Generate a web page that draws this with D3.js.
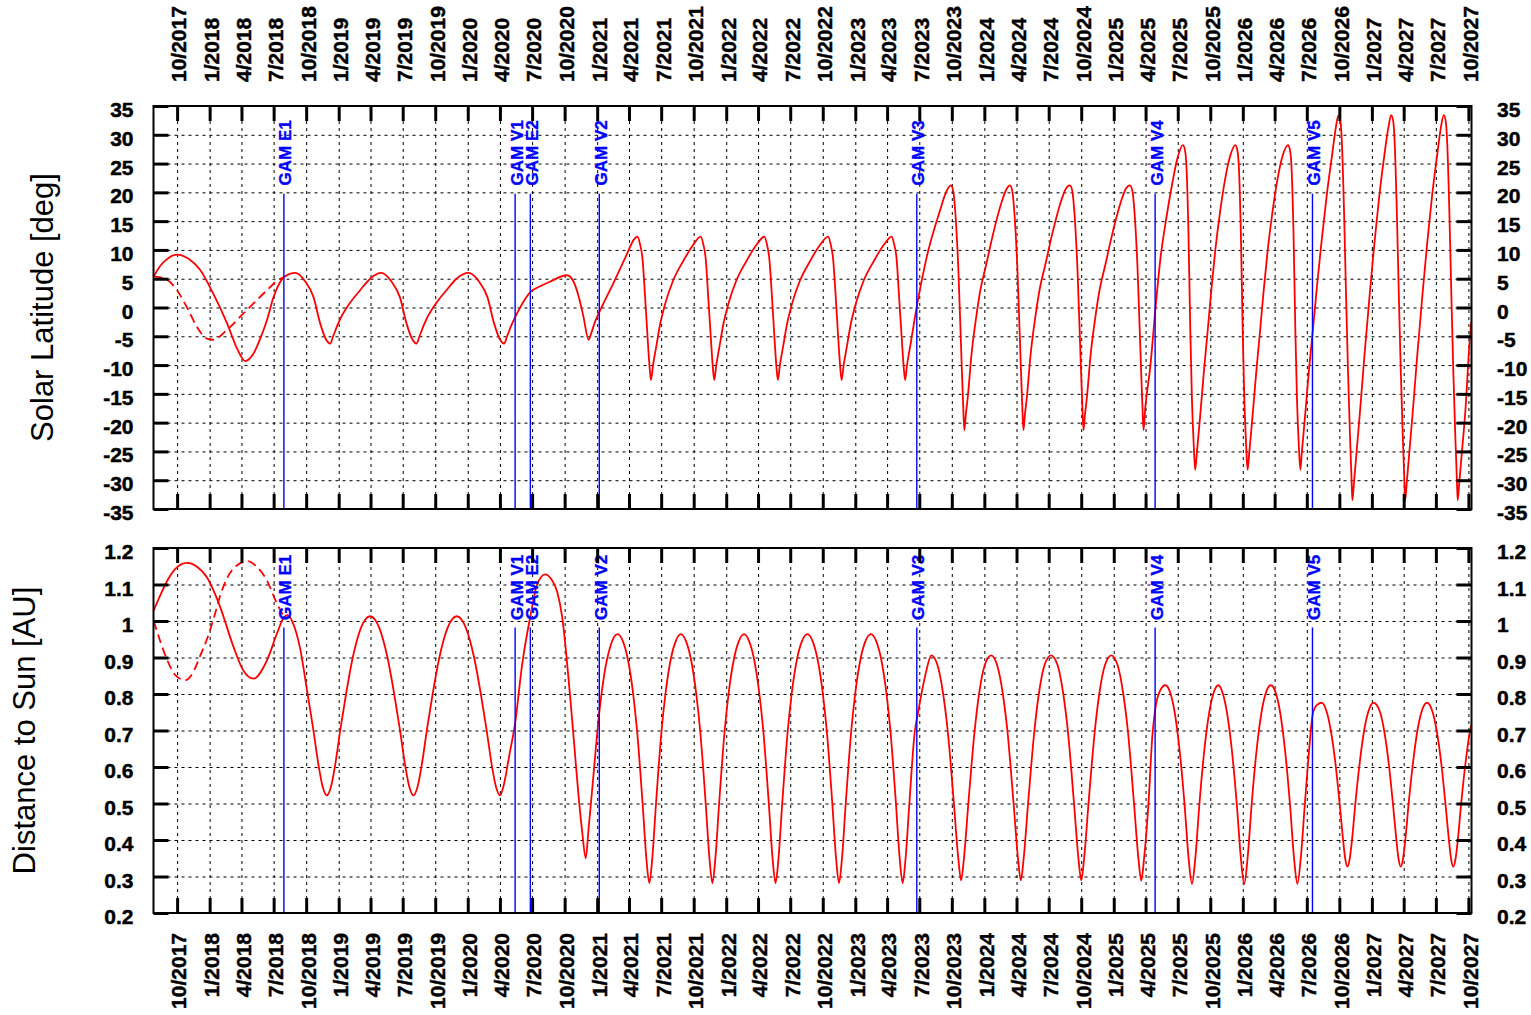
<!DOCTYPE html>
<html>
<head>
<meta charset="utf-8">
<script src="https://cdn.jsdelivr.net/npm/d3@7"></script>
<style>
  body { margin: 0; background: #fff; }
  svg { display: block; }
</style>
</head>
<body>
<svg id="chart" width="1531" height="1015"></svg>
<script>
// ---------------------------------------------------------------------------
// Trajectory data. Time is given in decimal years.
// ---------------------------------------------------------------------------

// Solar latitude [deg], baseline trajectory (solid)
const latSolid = [
  [2017.567,5.4],[2017.617,7.2],[2017.669,8.4],[2017.749,9.2],[2017.834,8.5],[2017.927,6.5],[2018.028,2.4],
  [2018.136,-2.8],[2018.214,-7.2],[2018.276,-9.3],[2018.340,-8.0],[2018.392,-5.4],[2018.444,-2.2],[2018.495,1.8],
  [2018.578,5.3],[2018.663,6.0],
  [2018.741,4.5],[2018.805,1.8],[2018.857,-2.8],[2018.903,-5.6],[2018.934,-6.25],[2018.957,-5.0],[2018.988,-3.2],
  [2019.011,-2.0],[2019.063,0],[2019.166,3.0],[2019.244,5.0],[2019.327,6.0],
  [2019.409,4.5],[2019.474,1.8],[2019.526,-2.8],[2019.572,-5.6],[2019.603,-6.25],[2019.626,-5.0],[2019.657,-3.2],
  [2019.680,-2.0],[2019.732,0],[2019.835,3.0],[2019.913,5.0],[2020.005,6.0],
  [2020.087,4.5],[2020.152,1.8],[2020.204,-2.8],[2020.250,-5.6],[2020.281,-6.25],[2020.304,-5.0],[2020.335,-3.2],
  [2020.368,-1.6],[2020.420,0.6],[2020.485,2.7],[2020.560,3.7],[2020.637,4.5],[2020.766,5.6],[2020.815,4.6],
  [2020.856,2.0],[2020.893,-1.5],[2020.934,-5.6],[2020.955,-4.4],[2020.985,-2.4],[2021.017,-0.8],[2021.125,4.2],
  [2021.233,9.4],[2021.284,11.8],[2021.313,12.3],
  [2021.332,11.0],[2021.351,8.5],[2021.371,2.0],[2021.390,-5.0],[2021.405,-10.0],[2021.417,-12.6],[2021.433,-10.0],
  [2021.460,-6.5],[2021.487,-3.0],[2021.525,0.5],[2021.587,4.6],[2021.665,8.0],[2021.742,10.8],[2021.803,12.3],
  [2021.822,11.0],[2021.841,8.5],[2021.860,2.0],[2021.880,-5.0],[2021.895,-10.0],[2021.907,-12.6],[2021.923,-10.0],
  [2021.950,-6.5],[2021.977,-3.0],[2022.015,0.5],[2022.077,4.6],[2022.155,8.0],[2022.232,10.8],[2022.296,12.3],
  [2022.315,11.0],[2022.334,8.5],[2022.354,2.0],[2022.373,-5.0],[2022.388,-10.0],[2022.400,-12.6],[2022.416,-10.0],
  [2022.443,-6.5],[2022.470,-3.0],[2022.508,0.5],[2022.570,4.6],[2022.648,8.0],[2022.725,10.8],[2022.790,12.3],
  [2022.809,11.0],[2022.828,8.5],[2022.848,2.0],[2022.867,-5.0],[2022.882,-10.0],[2022.894,-12.6],[2022.910,-10.0],
  [2022.937,-6.5],[2022.964,-3.0],[2023.002,0.5],[2023.064,4.6],[2023.142,8.0],[2023.219,10.8],[2023.282,12.3],
  [2023.301,11.0],[2023.320,8.5],[2023.339,2.0],[2023.359,-5.0],[2023.374,-10.0],[2023.386,-12.6],[2023.401,-10.0],
  [2023.425,-6.8],[2023.476,0.1],[2023.554,8.8],[2023.657,16.9],[2023.703,20.0],[2023.740,21.2],
  [2023.759,20.2],[2023.775,16.5],[2023.798,7.0],[2023.825,-10.3],[2023.836,-17.0],[2023.845,-21.3],[2023.857,-18.5],
  [2023.872,-15.5],[2023.899,-8.5],[2023.938,-1.5],[2023.969,3.0],[2024.015,7.5],[2024.070,13.0],[2024.132,18.2],
  [2024.170,20.5],[2024.199,21.2],
  [2024.216,20.2],[2024.232,16.5],[2024.255,7.0],[2024.282,-10.3],[2024.293,-17.0],[2024.302,-21.3],[2024.314,-18.5],
  [2024.329,-15.5],[2024.356,-8.5],[2024.395,-1.5],[2024.426,3.0],[2024.472,7.5],[2024.527,13.0],[2024.589,18.2],
  [2024.627,20.5],[2024.661,21.2],
  [2024.680,20.2],[2024.696,16.5],[2024.719,7.0],[2024.746,-10.3],[2024.757,-17.0],[2024.766,-21.3],[2024.778,-18.5],
  [2024.793,-15.5],[2024.820,-8.5],[2024.859,-1.5],[2024.890,3.0],[2024.936,7.5],[2024.991,13.0],[2025.053,18.2],
  [2025.091,20.5],[2025.125,21.2],
  [2025.145,20.2],[2025.161,16.5],[2025.184,7.0],[2025.211,-10.3],[2025.222,-17.0],[2025.231,-21.3],[2025.244,-17.5],
  [2025.283,-10.3],[2025.322,-0.5],[2025.360,8.2],[2025.407,15.5],[2025.453,21.5],[2025.492,25.8],[2025.536,28.2],
  [2025.552,27.3],[2025.562,25.0],[2025.579,12.8],[2025.593,-3.9],[2025.606,-16.1],[2025.620,-24.0],[2025.631,-28.2],
  [2025.643,-25.5],[2025.670,-18.7],[2025.701,-10.5],[2025.728,-4.0],[2025.755,2.8],[2025.786,9.8],[2025.825,16.8],
  [2025.863,22.3],[2025.902,26.3],[2025.942,28.2],
  [2025.958,27.3],[2025.968,25.0],[2025.985,12.8],[2025.999,-3.9],[2026.012,-16.1],[2026.026,-24.0],[2026.037,-28.2],
  [2026.049,-25.5],[2026.076,-18.7],[2026.107,-10.5],[2026.134,-4.0],[2026.161,2.8],[2026.192,9.8],[2026.231,16.8],
  [2026.269,22.3],[2026.308,26.3],[2026.350,28.2],
  [2026.366,27.3],[2026.376,25.0],[2026.393,12.8],[2026.407,-3.9],[2026.420,-16.1],[2026.434,-24.0],[2026.446,-28.2],
  [2026.456,-25.5],[2026.483,-18.7],[2026.514,-10.5],[2026.543,-3.9],[2026.576,4.0],[2026.615,12.5],[2026.653,20.0],
  [2026.692,26.5],[2026.719,31.0],[2026.741,33.4],
  [2026.757,32.3],[2026.768,28.5],[2026.784,17.0],[2026.799,3.0],[2026.815,-11.0],[2026.830,-22.0],[2026.842,-29.5],
  [2026.849,-33.5],[2026.861,-30.5],[2026.880,-25.5],[2026.909,-17.8],[2026.942,-8.5],[2026.986,3.0],[2027.019,11.0],
  [2027.058,19.5],[2027.097,26.5],[2027.128,31.3],[2027.150,33.4],
  [2027.166,32.3],[2027.177,28.5],[2027.193,17.0],[2027.208,3.0],[2027.224,-11.0],[2027.239,-22.0],[2027.251,-29.5],
  [2027.258,-33.5],[2027.270,-30.5],[2027.289,-25.5],[2027.318,-17.8],[2027.351,-8.5],[2027.395,3.0],[2027.428,11.0],
  [2027.467,19.5],[2027.506,26.5],[2027.535,31.3],[2027.557,33.4],
  [2027.573,32.3],[2027.584,28.5],[2027.600,17.0],[2027.615,3.0],[2027.631,-11.0],[2027.646,-22.0],[2027.658,-29.5],
  [2027.665,-33.5],[2027.677,-30.5],[2027.696,-25.5],[2027.725,-17.8],[2027.757,-6.0],[2027.770,-2.5]
];

// Solar latitude [deg], alternative early arc up to the Earth flyby (dashed)
const latDashed = [
  [2017.567,5.4],[2017.656,5.0],[2017.747,3.0],[2017.836,-0.5],[2017.902,-3.4],[2017.979,-5.4],[2018.030,-5.6],
  [2018.134,-3.9],[2018.237,-1.6],[2018.340,0.7],[2018.444,3.0],[2018.547,5.0],[2018.578,5.3]
];

// Distance to Sun [AU], baseline trajectory (solid)
const distSolid = [
  [2017.567,1.029],[2017.617,1.07],[2017.679,1.115],[2017.734,1.143],[2017.824,1.159],[2017.904,1.148],[2017.979,1.12],
  [2018.028,1.085],[2018.082,1.038],[2018.185,0.929],[2018.260,0.865],[2018.340,0.842],[2018.444,0.892],[2018.521,0.965],
  [2018.572,1.008],[2018.601,1.016],[2018.645,0.995],[2018.701,0.925],[2018.759,0.80],[2018.800,0.71],[2018.846,0.60],
  [2018.873,0.55],[2018.908,0.5225],
  [2018.943,0.55],[2018.970,0.60],[2019.016,0.71],[2019.057,0.80],[2019.109,0.90],[2019.171,0.98],[2019.243,1.013],
  [2019.316,0.98],[2019.378,0.90],[2019.430,0.80],[2019.471,0.71],[2019.517,0.60],[2019.544,0.55],[2019.579,0.5225],
  [2019.614,0.55],[2019.641,0.60],[2019.687,0.71],[2019.728,0.80],[2019.780,0.90],[2019.842,0.98],[2019.915,1.013],
  [2019.987,0.98],[2020.049,0.90],[2020.101,0.80],[2020.142,0.71],[2020.188,0.60],[2020.215,0.55],[2020.250,0.5225],
  [2020.281,0.555],[2020.320,0.63],[2020.366,0.72],[2020.420,0.88],[2020.482,1.01],[2020.536,1.10],[2020.598,1.128],
  [2020.645,1.115],[2020.691,1.08],[2020.730,1.01],[2020.761,0.91],[2020.792,0.79],[2020.823,0.66],[2020.854,0.53],
  [2020.885,0.42],[2020.912,0.35],
  [2020.931,0.42],[2020.972,0.58],[2021.010,0.728],[2021.056,0.856],[2021.102,0.93],[2021.157,0.964],
  [2021.199,0.945],[2021.235,0.9],[2021.279,0.8],[2021.309,0.7],[2021.352,0.5],[2021.381,0.35],[2021.404,0.282],
  [2021.427,0.35],[2021.456,0.5],[2021.499,0.7],[2021.529,0.8],[2021.573,0.9],[2021.609,0.945],[2021.648,0.964],
  [2021.688,0.945],[2021.724,0.9],[2021.768,0.8],[2021.798,0.7],[2021.841,0.5],[2021.870,0.35],[2021.893,0.282],
  [2021.916,0.35],[2021.945,0.5],[2021.988,0.7],[2022.018,0.8],[2022.062,0.9],[2022.098,0.945],[2022.138,0.964],
  [2022.177,0.945],[2022.213,0.9],[2022.257,0.8],[2022.287,0.7],[2022.330,0.5],[2022.359,0.35],[2022.382,0.282],
  [2022.405,0.35],[2022.434,0.5],[2022.477,0.7],[2022.507,0.8],[2022.551,0.9],[2022.587,0.945],[2022.629,0.964],
  [2022.669,0.945],[2022.705,0.9],[2022.749,0.8],[2022.779,0.7],[2022.822,0.5],[2022.851,0.35],[2022.874,0.282],
  [2022.897,0.35],[2022.926,0.5],[2022.969,0.7],[2022.999,0.8],[2023.043,0.9],[2023.079,0.945],[2023.121,0.964],
  [2023.162,0.945],[2023.198,0.9],[2023.242,0.8],[2023.272,0.7],[2023.315,0.5],[2023.344,0.35],[2023.367,0.282],
  [2023.390,0.35],[2023.419,0.5],[2023.462,0.7],[2023.479,0.735],[2023.518,0.81],[2023.548,0.86],[2023.590,0.906],
  [2023.636,0.88],[2023.681,0.8],[2023.716,0.7],[2023.764,0.5],[2023.798,0.35],[2023.820,0.29],
  [2023.842,0.35],[2023.876,0.5],[2023.925,0.7],[2023.959,0.8],[2024.004,0.88],[2024.053,0.906],
  [2024.098,0.88],[2024.143,0.8],[2024.178,0.7],[2024.226,0.5],[2024.260,0.35],[2024.282,0.29],
  [2024.304,0.35],[2024.338,0.5],[2024.387,0.7],[2024.421,0.8],[2024.466,0.88],[2024.515,0.906],
  [2024.565,0.88],[2024.610,0.8],[2024.645,0.7],[2024.693,0.5],[2024.727,0.35],[2024.749,0.29],
  [2024.771,0.35],[2024.805,0.5],[2024.854,0.7],[2024.888,0.8],[2024.933,0.88],[2024.981,0.906],
  [2025.029,0.88],[2025.074,0.8],[2025.109,0.7],[2025.157,0.5],[2025.191,0.35],[2025.213,0.289],
  [2025.235,0.35],[2025.269,0.5],[2025.298,0.68],[2025.322,0.76],[2025.360,0.81],[2025.399,0.824],
  [2025.441,0.8],[2025.472,0.75],[2025.509,0.65],[2025.548,0.5],[2025.580,0.35],[2025.606,0.28],
  [2025.632,0.35],[2025.664,0.5],[2025.703,0.65],[2025.740,0.75],[2025.771,0.8],[2025.811,0.824],
  [2025.846,0.8],[2025.877,0.75],[2025.914,0.65],[2025.953,0.5],[2025.985,0.35],[2026.011,0.28],
  [2026.037,0.35],[2026.069,0.5],[2026.108,0.65],[2026.145,0.75],[2026.176,0.8],[2026.216,0.824],
  [2026.258,0.8],[2026.289,0.75],[2026.326,0.65],[2026.365,0.5],[2026.397,0.35],[2026.423,0.28],
  [2026.449,0.35],[2026.481,0.5],[2026.512,0.64],[2026.543,0.747],[2026.575,0.77],[2026.612,0.776],
  [2026.651,0.75],[2026.682,0.7],[2026.721,0.6],[2026.750,0.5],[2026.777,0.4],[2026.793,0.35],[2026.811,0.327],
  [2026.829,0.35],[2026.846,0.4],[2026.872,0.5],[2026.902,0.6],[2026.940,0.7],[2026.971,0.75],[2027.013,0.776],
  [2027.064,0.75],[2027.095,0.7],[2027.134,0.6],[2027.163,0.5],[2027.190,0.4],[2027.206,0.35],[2027.224,0.327],
  [2027.242,0.35],[2027.259,0.4],[2027.285,0.5],[2027.315,0.6],[2027.353,0.7],[2027.384,0.75],[2027.427,0.776],
  [2027.471,0.75],[2027.502,0.7],[2027.541,0.6],[2027.570,0.5],[2027.597,0.4],[2027.613,0.35],[2027.631,0.327],
  [2027.649,0.35],[2027.666,0.4],[2027.692,0.5],[2027.722,0.6],[2027.761,0.7],[2027.770,0.715]
];

// Distance to Sun [AU], alternative early arc up to the Earth flyby (dashed)
const distDashed = [
  [2017.567,1.0],[2017.617,0.945],[2017.669,0.895],[2017.734,0.852],[2017.811,0.838],[2017.873,0.86],[2017.927,0.905],
  [2017.979,0.95],[2018.030,1.005],[2018.082,1.07],[2018.185,1.144],[2018.295,1.164],[2018.361,1.15],[2018.444,1.111],
  [2018.521,1.048],[2018.578,1.01]
];

// Gravity assist manoeuvres (Earth / Venus)
const gamNames = ["GAM E1", "GAM V1", "GAM E2", "GAM V2", "GAM V3", "GAM V4", "GAM V5"];
const gamDates = ["2018-07-30", "2020-05-14", "2020-06-26", "2021-01-07", "2023-06-24", "2025-04-28", "2026-07-17"];

// Axis ticks
const xTickLabels = [
  "10/2017","1/2018","4/2018","7/2018","10/2018","1/2019","4/2019","7/2019","10/2019",
  "1/2020","4/2020","7/2020","10/2020","1/2021","4/2021","7/2021","10/2021",
  "1/2022","4/2022","7/2022","10/2022","1/2023","4/2023","7/2023","10/2023",
  "1/2024","4/2024","7/2024","10/2024","1/2025","4/2025","7/2025","10/2025",
  "1/2026","4/2026","7/2026","10/2026","1/2027","4/2027","7/2027","10/2027"
];
const latTicks = [-35,-30,-25,-20,-15,-10,-5,0,5,10,15,20,25,30,35];
const distTicks = [0.2,0.3,0.4,0.5,0.6,0.7,0.8,0.9,1,1.1,1.2];

// ---------------------------------------------------------------------------
// Layout
// ---------------------------------------------------------------------------
const W = 1531, H = 1015;
const X0 = 153.5, X1 = 1471.5;
const FONT = '"Liberation Sans", Arial, Helvetica, sans-serif';
const RED = "#ff0000", BLUE = "#0000ff";

function yearToDate(t) {
  const y = Math.floor(t);
  const a = Date.UTC(y, 0, 1), b = Date.UTC(y + 1, 0, 1);
  return new Date(a + (t - y) * (b - a));
}
const parseDay = d3.utcParse("%Y-%m-%d");
const xTicks = xTickLabels.map(s => {
  const [m, y] = s.split("/");
  return new Date(Date.UTC(+y, +m - 1, 1));
});

const x = d3.scaleUtc()
  .domain([yearToDate(2017.565), yearToDate(2027.772)])
  .range([X0, X1]);

const svg = d3.select("#chart");
svg.append("rect").attr("width", W).attr("height", H).attr("fill", "#fff");

function drawPanel(p) {
  const { id, top, bottom, y, yTicks, series, labelTop, title, titleX } = p;
  const h = bottom - top;
  const g = svg.append("g").attr("class", "panel-" + id);

  // dotted grid
  g.append("g")
    .attr("transform", `translate(0,${bottom})`)
    .call(d3.axisBottom(x).tickValues(xTicks).tickSize(-h).tickFormat(""))
    .call(a => a.select(".domain").remove())
    .selectAll("line")
    .attr("stroke", "#000").attr("stroke-width", 1).attr("stroke-dasharray", "3,4");
  g.append("g")
    .attr("transform", `translate(${X0},0)`)
    .call(d3.axisLeft(y).tickValues(yTicks.slice(1, -1)).tickSize(-(X1 - X0)).tickFormat(""))
    .call(a => a.select(".domain").remove())
    .selectAll("line")
    .attr("stroke", "#000").attr("stroke-width", 1).attr("stroke-dasharray", "3,4");

  // curves
  const clipId = "clip-" + id;
  g.append("clipPath").attr("id", clipId)
    .append("rect").attr("x", X0).attr("y", top).attr("width", X1 - X0).attr("height", h);
  const line = d3.line()
    .x(d => x(yearToDate(d[0])))
    .y(d => y(d[1]))
    .curve(d3.curveMonotoneX);
  const cg = g.append("g").attr("clip-path", `url(#${clipId})`);
  series.forEach(s => {
    cg.append("path")
      .datum(s.data)
      .attr("d", line)
      .attr("fill", "none")
      .attr("stroke", RED)
      .attr("stroke-width", 1.8)
      .attr("stroke-linejoin", "round")
      .attr("stroke-dasharray", s.dashed ? "9,5" : null);
  });

  // gravity assist markers
  const gam = gamNames.map((n, i) => ({ name: n, date: parseDay(gamDates[i]) }));
  const mg = g.append("g");
  mg.selectAll("line").data(gam).join("line")
    .attr("x1", d => x(d.date)).attr("x2", d => x(d.date))
    .attr("y1", top + 0.218 * h).attr("y2", bottom)
    .attr("stroke", BLUE).attr("stroke-width", 1.4);
  mg.selectAll("text").data(gam).join("text")
    .attr("transform", d => `translate(${x(d.date) + 1.5},${top + 0.197 * h}) rotate(-90)`)
    .attr("dy", "0.35em")
    .attr("fill", BLUE)
    .attr("stroke", BLUE).attr("stroke-width", 0.35)
    .attr("font-family", FONT).attr("font-weight", "bold").attr("font-size", 17)
    .text(d => d.name);

  // frame
  g.append("rect")
    .attr("x", X0).attr("y", top).attr("width", X1 - X0).attr("height", h)
    .attr("fill", "none").attr("stroke", "#000").attr("stroke-width", 2);

  const fmtX = d3.utcFormat("%-m/%Y");
  const styleAxis = a => {
    a.select(".domain").remove();
    a.selectAll("line").attr("stroke", "#000").attr("stroke-width", 3);
    a.attr("font-family", FONT).attr("font-size", 21).attr("font-weight", "bold");
    a.selectAll("text").attr("fill", "#000").attr("stroke", "#000").attr("stroke-width", 0.45);
  };

  // x ticks (inward) on top and bottom edges
  const topAxis = g.append("g").attr("transform", `translate(0,${top})`)
    .call(d3.axisTop(x).tickValues(xTicks).tickSize(-15).tickFormat(labelTop ? fmtX : ""))
    .call(styleAxis);
  const botAxis = g.append("g").attr("transform", `translate(0,${bottom})`)
    .call(d3.axisBottom(x).tickValues(xTicks).tickSize(-15).tickFormat(labelTop ? "" : fmtX))
    .call(styleAxis);
  if (labelTop) {
    topAxis.selectAll("text")
      .attr("transform", "rotate(-90)")
      .attr("x", 24).attr("y", 1.5).attr("dy", "0.35em")
      .attr("text-anchor", "start");
  } else {
    botAxis.selectAll("text")
      .attr("transform", "rotate(-90)")
      .attr("x", -20).attr("y", 1.5).attr("dy", "0.35em")
      .attr("text-anchor", "end");
  }

  // y ticks (inward) with labels on both sides
  const yFmt = d => String(d);
  g.append("g").attr("transform", `translate(${X0},0)`)
    .call(d3.axisLeft(y).tickValues(yTicks).tickSize(-15).tickPadding(20).tickFormat(yFmt))
    .call(styleAxis)
    .selectAll("text").attr("dy", "0.5em");
  g.append("g").attr("transform", `translate(${X1},0)`)
    .call(d3.axisRight(y).tickValues(yTicks).tickSize(-15).tickPadding(25.5).tickFormat(yFmt))
    .call(styleAxis)
    .selectAll("text").attr("dy", "0.5em");

  // axis title
  svg.append("text")
    .attr("transform", `translate(${titleX},${(top + bottom) / 2}) rotate(-90)`)
    .attr("text-anchor", "middle")
    .attr("dy", "0.25em")
    .attr("font-family", FONT).attr("font-size", 31)
    .attr("fill", "#000")
    .text(title);
}

const latTop = 106, latBottom = 509;
const distTop = 548, distBottom = 913;

drawPanel({
  id: "lat", top: latTop, bottom: latBottom,
  y: d3.scaleLinear().domain([-35, 35]).range([latBottom, latTop]),
  yTicks: latTicks,
  series: [{ data: latSolid, dashed: false }, { data: latDashed, dashed: true }],
  labelTop: true,
  title: "Solar Latitude [deg]", titleX: 45
});

drawPanel({
  id: "dist", top: distTop, bottom: distBottom,
  y: d3.scaleLinear().domain([0.2, 1.2]).range([distBottom, distTop]),
  yTicks: distTicks,
  series: [{ data: distSolid, dashed: false }, { data: distDashed, dashed: true }],
  labelTop: false,
  title: "Distance to Sun [AU]", titleX: 27.5
});
</script>
</body>
</html>
